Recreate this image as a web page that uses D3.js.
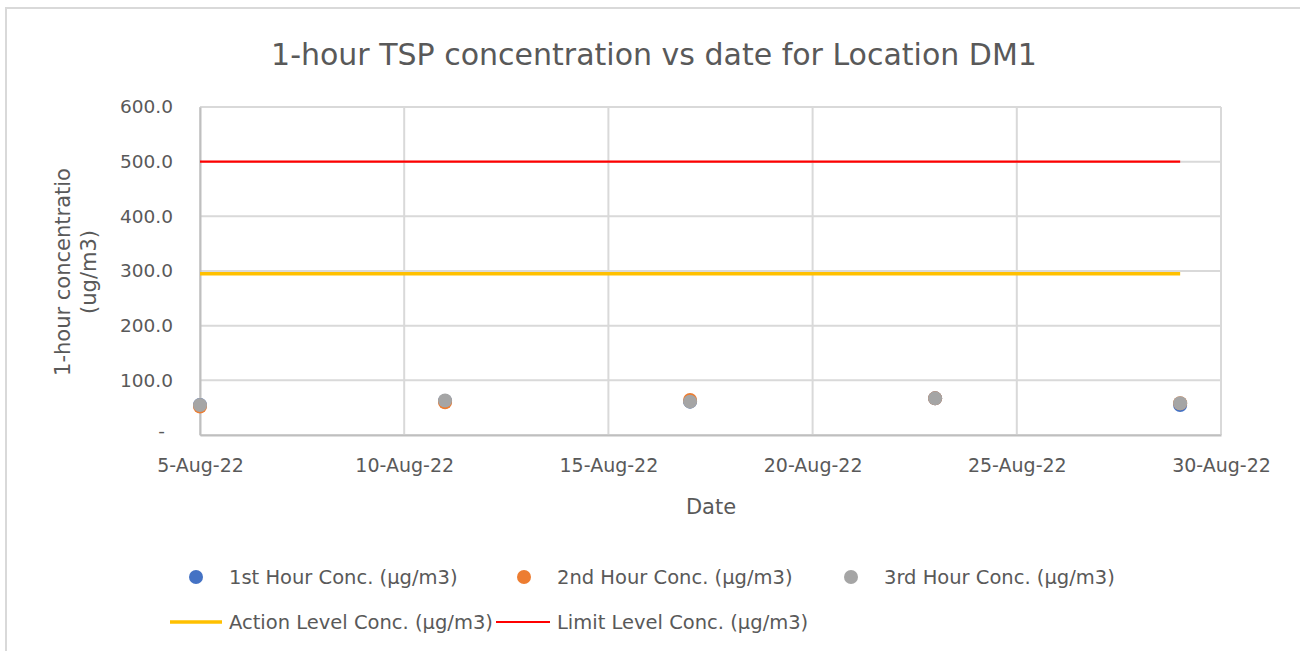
<!DOCTYPE html>
<html>
<head>
<meta charset="utf-8">
<script src="https://cdn.jsdelivr.net/npm/d3@7"></script>
<style>
  html, body { margin: 0; padding: 0; background: #fff; }
  svg { display: block; font-family: "DejaVu Sans", "Open Sans", sans-serif; }
</style>
</head>
<body>
<svg id="chart" width="1300" height="651"></svg>
<script>
// Sampling dates (August 2022)
const dates = ["2022-08-05", "2022-08-11", "2022-08-17", "2022-08-23", "2022-08-29"];
// 1-hour TSP concentrations, µg/m3
const hour1 = [55, 62, 61, 67, 55];
const hour2 = [52, 60, 64, 67, 58];
const hour3 = [55, 63, 61, 67, 58];
// Criteria levels
const actionLevel = [295, 295, 295, 295, 295];
const limitLevel = [500, 500, 500, 500, 500];
// Axis ticks
const xTickDates = ["2022-08-05", "2022-08-10", "2022-08-15", "2022-08-20", "2022-08-25", "2022-08-30"];
const yTicks = [0, 100, 200, 300, 400, 500, 600];

const parse = d3.utcParse("%Y-%m-%d");
const fmtDate = d3.utcFormat("%-d-%b-%y");

const svg = d3.select("#chart");
const plot = { left: 200, right: 1221, top: 107, bottom: 435 };
const textColor = "#595959";

const x = d3.scaleUtc()
  .domain([parse(xTickDates[0]), parse(xTickDates[xTickDates.length - 1])])
  .range([plot.left, plot.right]);
const y = d3.scaleLinear().domain([0, 600]).range([plot.bottom, plot.top]);

// Outer chart frame
svg.append("path")
  .attr("d", "M6,651 V8 H1300")
  .attr("fill", "none")
  .attr("stroke", "#d9d9d9")
  .attr("stroke-width", 2);

// Title
svg.append("text")
  .attr("x", 654).attr("y", 65)
  .attr("text-anchor", "middle")
  .attr("font-size", 30)
  .attr("fill", textColor)
  .text("1-hour TSP concentration vs date for Location DM1");

// Horizontal gridlines
svg.append("g")
  .selectAll("line")
  .data(yTicks)
  .join("line")
  .attr("x1", plot.left).attr("x2", plot.right)
  .attr("y1", d => y(d)).attr("y2", d => y(d))
  .attr("stroke", "#d9d9d9").attr("stroke-width", 2);

// Vertical gridlines
svg.append("g")
  .selectAll("line")
  .data(xTickDates)
  .join("line")
  .attr("x1", d => x(parse(d))).attr("x2", d => x(parse(d)))
  .attr("y1", plot.top).attr("y2", plot.bottom)
  .attr("stroke", "#d9d9d9").attr("stroke-width", 2);

// Axes
const xAxis = svg.append("g")
  .attr("transform", `translate(0,${plot.bottom})`)
  .call(d3.axisBottom(x).tickValues(xTickDates.map(parse)).tickFormat(fmtDate).tickSize(0).tickPadding(24));
xAxis.select(".domain").attr("stroke", "#bfbfbf").attr("stroke-width", 2);
xAxis.selectAll("text").attr("font-size", 19).attr("fill", textColor)
  .attr("font-family", "DejaVu Sans, sans-serif");

const yAxis = svg.append("g")
  .attr("transform", `translate(${plot.left},0)`)
  .call(d3.axisLeft(y).tickValues(yTicks).tickFormat(d => d === 0 ? "-" : d3.format(".1f")(d)).tickSize(0).tickPadding(27));
yAxis.select(".domain").attr("stroke", "#bfbfbf").attr("stroke-width", 2);
yAxis.selectAll("text").attr("font-size", 18.5).attr("fill", textColor)
  .attr("font-family", "DejaVu Sans, sans-serif");
yAxis.selectAll(".tick text").filter(d => d === 0).attr("dx", -8).attr("dy", "0.1em");

// Axis titles
svg.append("text")
  .attr("x", 711).attr("y", 514)
  .attr("text-anchor", "middle")
  .attr("font-size", 21).attr("fill", textColor)
  .text("Date");

const yTitle = svg.append("text")
  .attr("transform", "translate(0,272) rotate(-90)")
  .attr("text-anchor", "middle")
  .attr("font-size", 21).attr("fill", textColor);
yTitle.append("tspan").attr("x", 0).attr("y", 70).text("1-hour concentratio");
yTitle.append("tspan").attr("x", 0).attr("y", 96).text("(ug/m3)");

// Level lines
const line = d3.line().x(d => x(parse(d.date))).y(d => y(d.v));
const toPts = vals => dates.map((d, i) => ({ date: d, v: vals[i] }));

svg.append("path")
  .datum(toPts(actionLevel))
  .attr("d", line)
  .attr("fill", "none").attr("stroke", "#ffc000").attr("stroke-width", 3.5);
svg.append("path")
  .datum(toPts(limitLevel))
  .attr("d", line)
  .attr("fill", "none").attr("stroke", "#ff0000").attr("stroke-width", 2.2);

// Scatter series
const series = [
  { name: "1st Hour Conc. (µg/m3)", vals: hour1, color: "#4472c4" },
  { name: "2nd Hour Conc. (µg/m3)", vals: hour2, color: "#ed7d31" },
  { name: "3rd Hour Conc. (µg/m3)", vals: hour3, color: "#a5a5a5" }
];
series.forEach(s => {
  svg.append("g")
    .selectAll("circle")
    .data(toPts(s.vals))
    .join("circle")
    .attr("cx", d => x(parse(d.date)))
    .attr("cy", d => y(d.v))
    .attr("r", 7)
    .attr("fill", s.color);
});

// Legend
const legendFont = 19.5;
const leg1 = [
  { s: series[0], mx: 196, tx: 229 },
  { s: series[1], mx: 524, tx: 557 },
  { s: series[2], mx: 851, tx: 884 }
];
leg1.forEach(l => {
  svg.append("circle").attr("cx", l.mx).attr("cy", 577).attr("r", 7).attr("fill", l.s.color);
  svg.append("text").attr("x", l.tx).attr("y", 584)
    .attr("font-size", legendFont).attr("fill", textColor).text(l.s.name);
});
const leg2 = [
  { name: "Action Level Conc. (µg/m3)", color: "#ffc000", w: 3.5, x1: 170, x2: 222, tx: 229 },
  { name: "Limit Level Conc. (µg/m3)", color: "#ff0000", w: 2.2, x1: 496, x2: 550, tx: 557 }
];
leg2.forEach(l => {
  svg.append("line").attr("x1", l.x1).attr("x2", l.x2).attr("y1", 622).attr("y2", 622)
    .attr("stroke", l.color).attr("stroke-width", l.w);
  svg.append("text").attr("x", l.tx).attr("y", 629)
    .attr("font-size", legendFont).attr("fill", textColor).text(l.name);
});
</script>
</body>
</html>
